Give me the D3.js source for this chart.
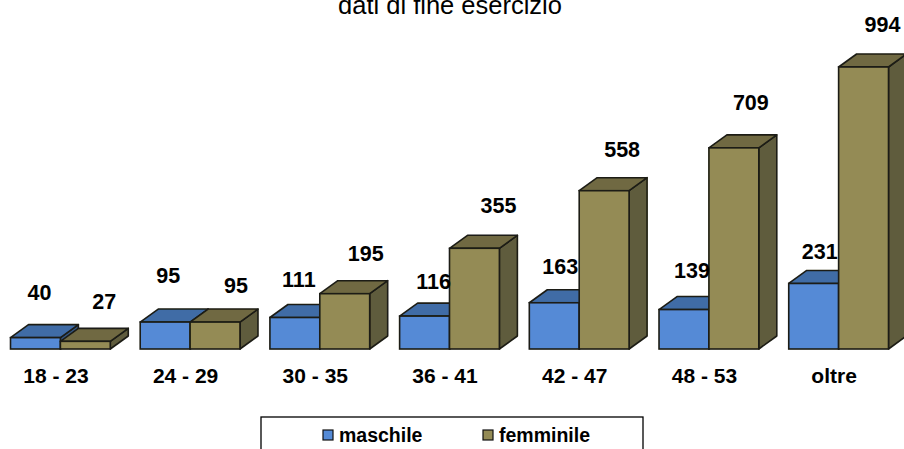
<!DOCTYPE html>
<html>
<head>
<meta charset="utf-8">
<script src="https://cdn.jsdelivr.net/npm/d3@7"></script>
<style>
  html, body { margin: 0; padding: 0; background: #fff; overflow: hidden; }
  svg { display: block; }
  text { font-family: "Liberation Sans", Arial, sans-serif; fill: #000; }
  .lbl, .tick text, .leg { font-weight: bold; }
</style>
</head>
<body>
<div id="chart"></div>
<script>
// data
var categories = ["18 - 23", "24 - 29", "30 - 35", "36 - 41", "42 - 47", "48 - 53", "oltre"];
var maschile  = [40, 95, 111, 116, 163, 139, 231];
var femminile = [27, 95, 195, 355, 558, 709, 994];
var seriesNames = ["maschile", "femminile"];

// hand placed data labels in the original: offset from the top of each bar
var maschileLabelOffset  = [[4, -6], [3, -7], [4, 1], [9, 5], [6, 3], [8, 0], [6, 8]];
var femminileLabelOffset = [[19, 0], [21, 3], [21, -1], [24, -3], [18, -2], [17, -6], [19, -3]];

var width = 904, height = 449;
var baseY = 349, topY = 67;      // plot limits
var depthX = 18, depthY = 13;    // 3d offset

var colors = {
  maschile:  {front: "#548ad6", top: "#3f6ca6", side: "#34557f"},
  femminile: {front: "#948b55", top: "#6f6942", side: "#5f5b3e"}
};

var x = d3.scaleBand().domain(categories).range([10.5, 888.5]).paddingInner(30 / 130).paddingOuter(0);
var xs = d3.scaleBand().domain(seriesNames).range([0, x.bandwidth()]);
var y = d3.scaleLinear().domain([0, 994]).range([baseY, topY]);

var svg = d3.select("#chart").append("svg")
    .attr("width", width)
    .attr("height", height);

// the reference is a slightly soft bitmap
var defs = svg.append("defs");
defs.append("filter").attr("id", "soft")
  .append("feGaussianBlur").attr("stdDeviation", 0.5);

// title, cut off by the top edge
svg.append("text")
    .attr("x", 450)
    .attr("y", 14)
    .attr("text-anchor", "middle")
    .style("font-size", "25.5px")
    .text("dati di fine esercizio");

var rows = [];
categories.forEach(function(c, i) {
  rows.push({cat: c, name: "maschile", value: maschile[i], off: maschileLabelOffset[i]});
  rows.push({cat: c, name: "femminile", value: femminile[i], off: femminileLabelOffset[i]});
});

var marks = svg.append("g").attr("filter", "url(#soft)");

var bar = marks.selectAll("g.bar")
    .data(rows)
  .enter().append("g")
    .attr("class", "bar");

function pts(a) { return a.map(function(p) { return p.join(","); }).join(" "); }

// right side face
bar.append("polygon")
    .attr("points", function(d) {
      var r = x(d.cat) + xs(d.name) + xs.bandwidth(), t = y(d.value);
      return pts([[r, t], [r + depthX, t - depthY], [r + depthX, baseY - depthY], [r, baseY]]);
    })
    .attr("fill", function(d) { return colors[d.name].side; })
    .attr("stroke", "#1c1c14")
    .attr("stroke-width", 1.6)
    .attr("stroke-linejoin", "round");

// top face
bar.append("polygon")
    .attr("points", function(d) {
      var l = x(d.cat) + xs(d.name), r = l + xs.bandwidth(), t = y(d.value);
      return pts([[l, t], [l + depthX, t - depthY], [r + depthX, t - depthY], [r, t]]);
    })
    .attr("fill", function(d) { return colors[d.name].top; })
    .attr("stroke", "#1c1c14")
    .attr("stroke-width", 1.6)
    .attr("stroke-linejoin", "round");

// front face
bar.append("rect")
    .attr("x", function(d) { return x(d.cat) + xs(d.name); })
    .attr("y", function(d) { return y(d.value); })
    .attr("width", xs.bandwidth())
    .attr("height", function(d) { return baseY - y(d.value); })
    .attr("fill", function(d) { return colors[d.name].front; })
    .attr("stroke", "#1c1c14")
    .attr("stroke-width", 1.6);

// data labels
svg.selectAll("text.lbl")
    .data(rows)
  .enter().append("text")
    .attr("class", "lbl")
    .attr("text-anchor", "middle")
    .attr("x", function(d) { return x(d.cat) + xs(d.name) + xs.bandwidth() / 2 + d.off[0]; })
    .attr("y", function(d) { return y(d.value) - depthY - 19 + d.off[1]; })
    .style("font-size", "21.5px")
    .text(function(d) { return d.value; });

// x axis, labels only
var axis = svg.append("g")
    .attr("transform", "translate(-4.5," + (baseY + 17) + ")")
    .call(d3.axisBottom(x).tickSize(0).tickPadding(0));
axis.select(".domain").remove();
axis.selectAll("text")
    .attr("dy", "0.8em")
    .style("font-family", '"Liberation Sans", Arial, sans-serif')
    .style("font-size", "21px");

// legend box, runs off the bottom edge
var legend = svg.append("g");
legend.append("rect")
    .attr("x", 261).attr("y", 417)
    .attr("width", 382).attr("height", 60)
    .attr("fill", "#fff")
    .attr("stroke", "#000")
    .attr("stroke-width", 1.3);

var legendX = d3.scalePoint().domain(seriesNames).range([323, 483]);

var item = legend.selectAll("g.item")
    .data(seriesNames)
  .enter().append("g")
    .attr("class", "item")
    .attr("transform", function(d) { return "translate(" + legendX(d) + ",430)"; });

item.append("rect")
    .attr("width", 10).attr("height", 10)
    .attr("fill", function(d) { return colors[d].front; })
    .attr("stroke", "#111")
    .attr("stroke-width", 1.2);

item.append("text")
    .attr("class", "leg")
    .attr("x", 16)
    .attr("y", 11.5)
    .style("font-size", "19.5px")
    .text(function(d) { return d; });
</script>
</body>
</html>
